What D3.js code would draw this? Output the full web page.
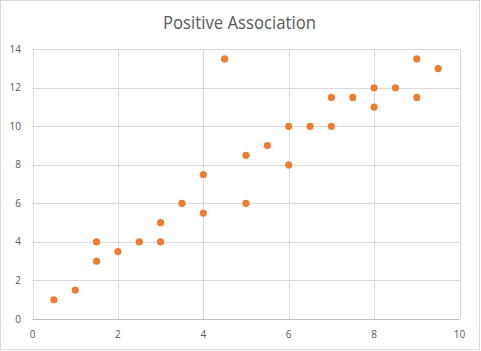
<!DOCTYPE html>
<html>
<head>
<meta charset="utf-8">
<script src="https://cdn.jsdelivr.net/npm/d3@7"></script>
<style>
  body { margin: 0; background: #fff; }
  svg { display: block; }
</style>
</head>
<body>
<div id="chart"></div>
<script>
// Scatter data
const xValues = [0.5, 1, 1.5, 1.5, 2, 2.5, 3, 3, 3.5, 4, 4, 4.5, 5, 5, 5.5, 6, 6, 6.5, 7, 7, 7.5, 8, 8, 8.5, 9, 9, 9.5];
const yValues = [1, 1.5, 4, 3, 3.5, 4, 4, 5, 6, 7.5, 5.5, 13.5, 8.5, 6, 9, 10, 8, 10, 11.5, 10, 11.5, 12, 11, 12, 13.5, 11.5, 13];
const xTicks = [0, 2, 4, 6, 8, 10];
const yTicks = [0, 2, 4, 6, 8, 10, 12, 14];
const title = "Positive Association";

const width = 481, height = 351;
const margin = { left: 32.5, right: 21.5, top: 49.3, bottom: 32 };

const svg = d3.select("#chart").append("svg")
    .attr("width", width)
    .attr("height", height);

// outer chart border
svg.append("rect")
    .attr("x", 0.5).attr("y", 0.5)
    .attr("width", width - 2).attr("height", height - 2)
    .attr("fill", "#fff")
    .attr("stroke", "#d9d9d9");

const x = d3.scaleLinear().domain([0, 10]).range([margin.left, width - margin.right]);
const y = d3.scaleLinear().domain([0, 14]).range([height - margin.bottom, margin.top]);

// gridlines
svg.append("g")
    .selectAll("line.v")
    .data(xTicks)
    .join("line")
    .attr("x1", d => Math.round(x(d)) + 0.5).attr("x2", d => Math.round(x(d)) + 0.5)
    .attr("y1", y(0)).attr("y2", y(14))
    .attr("stroke", "#d9d9d9");

svg.append("g")
    .selectAll("line.h")
    .data(yTicks)
    .join("line")
    .attr("x1", x(0)).attr("x2", x(10))
    .attr("y1", d => Math.round(y(d)) + 0.5).attr("y2", d => Math.round(y(d)) + 0.5)
    .attr("stroke", d => d === 0 ? "#bfbfbf" : "#d9d9d9");

// tick labels
svg.append("g")
    .selectAll("text")
    .data(xTicks)
    .join("text")
    .attr("x", d => x(d))
    .attr("y", 338)
    .attr("text-anchor", "middle")
    .attr("font-family", "Open Sans, sans-serif")
    .attr("font-size", 10)
    .attr("fill", "#595959")
    .text(d => d);

svg.append("g")
    .selectAll("text")
    .data(yTicks)
    .join("text")
    .attr("x", 21)
    .attr("y", d => y(d))
    .attr("dy", "0.35em")
    .attr("text-anchor", "end")
    .attr("font-family", "Open Sans, sans-serif")
    .attr("font-size", 10)
    .attr("fill", "#595959")
    .text(d => d);

// title
svg.append("text")
    .attr("x", 239.5)
    .attr("y", 29.3)
    .attr("text-anchor", "middle")
    .attr("font-family", "Open Sans, sans-serif")
    .attr("font-size", 18)
    .attr("fill", "#595959")
    .attr("textLength", 153)
    .attr("lengthAdjust", "spacingAndGlyphs")
    .text(title);

// points
svg.append("g")
    .selectAll("circle")
    .data(xValues.map((v, i) => [v, yValues[i]]))
    .join("circle")
    .attr("cx", d => x(d[0]))
    .attr("cy", d => y(d[1]))
    .attr("r", 3.6)
    .attr("fill", "#ed7d31");
</script>
</body>
</html>
